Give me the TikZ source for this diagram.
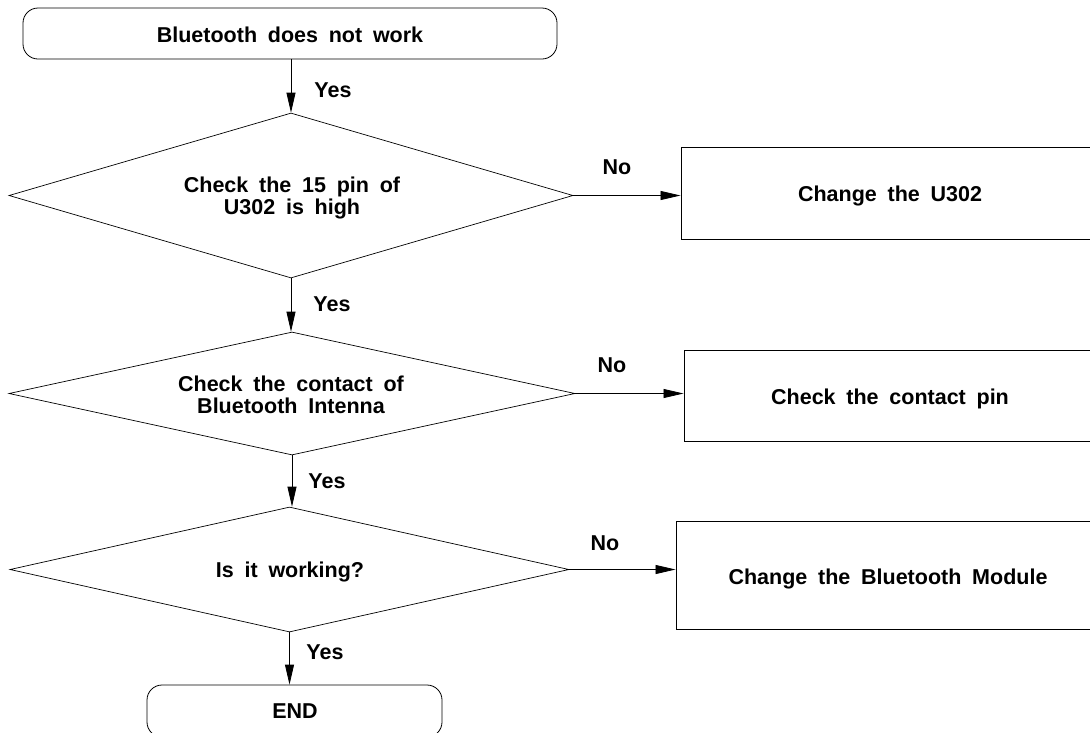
\documentclass[tikz,border=0pt]{standalone}
\usepackage{fontspec}
\setmainfont[WordSpace=1.8]{Liberation Sans}
\usetikzlibrary{shapes.geometric,arrows.meta}
\begin{document}
\begin{tikzpicture}[x=1pt,y=-1pt,
  every node/.style={font=\fontsize{21.5}{22}\selectfont\bfseries},
  terminal/.style={draw,line width=0.8pt,rounded corners=15pt,inner sep=0pt},
  decision/.style={draw,line width=0.7pt,diamond,aspect=3.4,inner sep=0pt},
  action/.style={draw,line width=0.9pt,rectangle,inner sep=0pt},
  flow/.style={line width=0.8pt,-{Triangle[length=20pt,width=9pt]}},
  txt/.style={align=center,inner sep=0pt},
  lbl/.style={inner sep=0pt}
]
\useasboundingbox (0,0) rectangle (1090,732);
% shapes
\node[terminal,minimum width=534pt,minimum height=51pt] (start) at (290,33.5) {};
\node[decision,minimum width=564pt,minimum height=165pt] (d1) at (291,195.5) {};
\node[decision,minimum width=566pt,minimum height=123pt] (d2) at (292,393.5) {};
\node[decision,minimum width=559pt,minimum height=125pt] (d3) at (289.5,569.5) {};
\node[terminal,minimum width=295pt,minimum height=52pt] (end) at (294.5,711) {};
\node[action,minimum width=420pt,minimum height=92pt] (b1) at (891,193) {};
\node[action,minimum width=416pt,minimum height=91pt] (b2) at (892,395.5) {};
\node[action,minimum width=424pt,minimum height=108pt] (b3) at (888,575) {};
% texts
\node[txt] (ts) at (290,35) {Bluetooth does not work};
\node[txt] (td1) at (292,198) {Check the 15 pin of\\U302 is high};
\node[txt] (td2) at (291,395) {Check the contact of\\Bluetooth Intenna};
\node[txt] (td3) at (290,572) {Is it working?};
\node[txt] (te) at (295,711) {END};
\node[txt] (t1) at (890,195.5) {Change the U302};
\node[txt] (t2) at (890,398.5) {Check the contact pin};
\node[txt] (t3) at (888,578.5) {Change the Bluetooth Module};
% connectors
\draw[flow] (start.south -| d1.north) -- (d1.north);
\draw[flow] (d1.south) -- (d1.south |- d2.north);
\draw[flow] (d2.south) -- (d2.south |- d3.north);
\draw[flow] (d3.south) -- (d3.south |- end.north);
\draw[flow] (d1.east) -- (d1.east -| b1.west);
\draw[flow] (d2.east) -- (d2.east -| b2.west);
\draw[flow] (d3.east) -- (d3.east -| b3.west);
% labels
\node[lbl] (y1) at (333,90) {Yes};
\node[lbl] (y2) at (332,304) {Yes};
\node[lbl] (y3) at (327,481) {Yes};
\node[lbl] (y4) at (325,652) {Yes};
\node[lbl] (n1) at (617,167) {No};
\node[lbl] (n2) at (612,365) {No};
\node[lbl] (n3) at (605,543) {No};
\end{tikzpicture}
\end{document}
